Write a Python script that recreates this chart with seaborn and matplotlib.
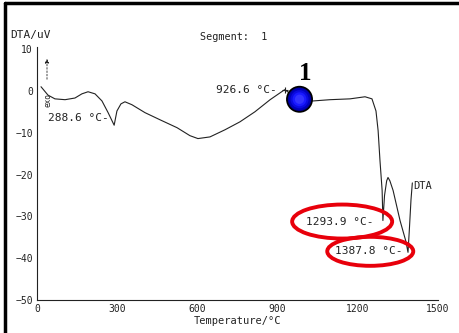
import numpy as np
import matplotlib
matplotlib.use("Agg")
import matplotlib.pyplot as plt
import matplotlib.transforms as mtransforms
from matplotlib.patches import Ellipse
from matplotlib.lines import Line2D
import seaborn as sns

# -- data --
temperature = [15, 41, 67, 105, 142, 168, 191, 217, 243, 266, 288.6, 299, 314, 329,
               355, 404, 460, 524, 572, 602, 647, 703, 759, 815, 872, 926.6, 955, 982,
               1010, 1033, 1096, 1171, 1227, 1253, 1268, 1276, 1283, 1291, 1293.9,
               1300, 1308, 1313, 1320, 1332, 1358, 1380, 1387.8, 1393, 1399, 1404]
dta = [1.0, -1.0, -1.9, -2.1, -1.7, -0.7, -0.2, -0.7, -2.4, -5.2, -8.2, -4.8, -3.1, -2.6,
       -3.3, -5.2, -6.9, -8.8, -10.7, -11.4, -11.0, -9.3, -7.4, -5.0, -2.1, 0.3, -1.0, -2.0,
       -2.4, -2.4, -2.1, -1.9, -1.4, -1.9, -4.8, -9.5, -16.7, -23.8, -31.0,
       -25.0, -21.5, -20.7, -21.5, -23.8, -31.0, -36.0, -38.6, -33.0, -26.0, -22.0]

peak_labels = ["288.6 °C-", "926.6 °C-", "1293.9 °C-", "1387.8 °C-"]
peak_temps = [288.6, 926.6, 1293.9, 1387.8]
circled = [False, False, True, True]
marker_temp = 982
x_ticks = [0, 300, 600, 900, 1200, 1500]
y_ticks = [10, 0, -10, -20, -30, -40, -50]

sns.set_style("white")
plt.rcParams['font.family'] = ['DejaVu Sans Mono', 'DejaVu Sans']
ink = "#222222"

fig = plt.figure(figsize=(4.6, 3.33), dpi=100)
ax = fig.add_axes([37 / 460, 33 / 333, 401 / 460, 253 / 333])

sns.lineplot(x=temperature, y=dta, sort=False, color=ink, linewidth=0.8, ax=ax)

ax.set_xlim(0, 1500)
ax.set_ylim(-50, 10.5)
ax.set_xticks(x_ticks)
ax.set_yticks(y_ticks)
ax.set_xticks(np.arange(0, 1501, 100), minor=True)
ax.set_yticks(np.arange(-50, 11, 2), minor=True)
ax.tick_params(axis="both", which="major", direction="in", length=4, width=0.7,
               labelsize=7, colors=ink, pad=3)
ax.tick_params(axis="both", which="minor", direction="in", length=2, width=0.5, colors=ink)
for side in ["top", "right"]:
    ax.spines[side].set_visible(False)
for side in ["left", "bottom"]:
    ax.spines[side].set_linewidth(0.8)
    ax.spines[side].set_color(ink)

ax.set_xlabel("Temperature/°C", fontsize=7.5, color=ink, labelpad=1)
fig.text(10 / 460, 1 - 35 / 333, "DTA/uV", fontsize=8, color=ink, va="center", ha="left")
fig.text(200 / 460, 1 - 37 / 333, "Segment:  1", fontsize=7.3, color=ink, va="center", ha="left")

# peak annotations
offsets = [(-5, 7), (-8, 0), (-9, -1), (-6, 1)]
ell_size = [None, None, (100, 34), (86, 29)]
for lab, t, off, circ, es in zip(peak_labels, peak_temps, offsets, circled, ell_size):
    v = np.interp(t, temperature, dta)
    txt = ax.annotate(lab, xy=(t, v), xytext=off, textcoords="offset pixels",
                      ha="right", va="center", fontsize=8, color=ink)
    if circ:
        # ellipse centred on the label, sized in pixels
        fig.canvas.draw()
        bb = txt.get_window_extent()
        cx, cy = (bb.x0 + bb.x1) / 2, (bb.y0 + bb.y1) / 2
        e = Ellipse((cx + 2, cy), es[0], es[1], transform=mtransforms.IdentityTransform(),
                    fill=False, edgecolor="#e8000b", linewidth=2.8, zorder=5)
        fig.add_artist(e)
t926 = peak_temps[1]
ax.plot([t926], [np.interp(t926, temperature, dta)], marker="+", color=ink,
        markersize=5, markeredgewidth=0.8)

# end-of-curve label
ax.annotate("DTA", xy=(temperature[-1], dta[-1]), xytext=(1, -3), textcoords="offset pixels",
            ha="left", va="center", fontsize=7.5, color=ink)

# exo arrow next to the y axis
ax.annotate("", xy=(47 / 460, 1 - 56 / 333), xytext=(47 / 460, 1 - 82 / 333),
            xycoords="figure fraction", textcoords="figure fraction",
            arrowprops=dict(arrowstyle="-|>", color=ink, lw=0.6, ls=(0, (2, 2)),
                            mutation_scale=6))
fig.text(48 / 460, 1 - 100 / 333, "exo", rotation=90, fontsize=5.5, color=ink,
         ha="center", va="center")

# blue marker "1"
mv = np.interp(marker_temp, temperature, dta)
for s, c in zip([330, 250, 170, 100, 45], ["#00008a", "#0000b8", "#0a0ae0", "#1a1aff", "#3434ff"]):
    ax.scatter([marker_temp], [mv], s=s, color=c, edgecolor="none", zorder=6)
ax.scatter([marker_temp], [mv], s=330, facecolor="none", edgecolor="black", linewidth=1.2, zorder=7)
ax.annotate("1", xy=(marker_temp, mv), xytext=(6, 26), textcoords="offset pixels",
            ha="center", va="center", fontsize=18, fontweight="bold",
            family="Liberation Serif", color="black")

# scan frame lines (top and left)
fig.add_artist(Line2D([5 / 460, 1], [1 - 3 / 333, 1 - 3 / 333], transform=fig.transFigure,
                      color="black", linewidth=2.5))
fig.add_artist(Line2D([5 / 460, 5 / 460], [0, 1 - 3 / 333], transform=fig.transFigure,
                      color="black", linewidth=2.5))

fig.savefig("out.png", dpi=100)
